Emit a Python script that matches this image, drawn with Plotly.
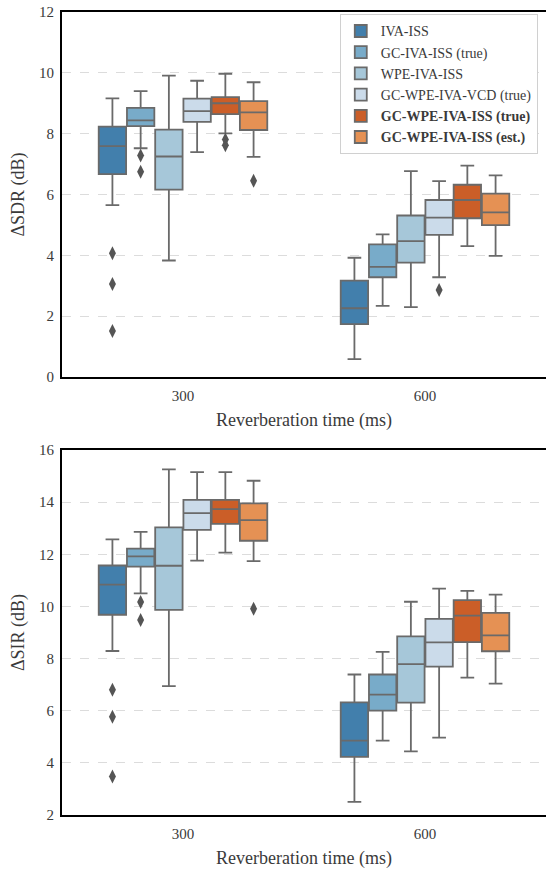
import colorsys
import plotly.graph_objects as go
from plotly.subplots import make_subplots

# ---------------- data ----------------
rt_labels = ["300", "600"]
methods = ["IVA-ISS", "GC-IVA-ISS (true)", "WPE-IVA-ISS", "GC-WPE-IVA-VCD (true)",
           "GC-WPE-IVA-ISS (true)", "GC-WPE-IVA-ISS (est.)"]
legend_bold = [False, False, False, False, True, True]

# SDR stats: per method, [300 ms, 600 ms]
sdr_lo = [[5.65, 0.59], [7.52, 2.34], [3.83, 2.30], [7.39, 3.28], [8.01, 4.30], [7.24, 3.98]]
sdr_q1 = [[6.67, 1.74], [8.25, 3.28], [6.16, 3.76], [8.39, 4.67], [8.64, 5.22], [8.12, 4.99]]
sdr_med = [[7.59, 2.26], [8.44, 3.62], [7.25, 4.47], [8.74, 5.24], [9.00, 5.82], [8.70, 5.41]]
sdr_q3 = [[8.23, 3.17], [8.85, 4.36], [8.13, 5.31], [9.15, 5.82], [9.20, 6.32], [9.07, 6.03]]
sdr_hi = [[9.16, 3.92], [9.40, 4.69], [9.91, 6.77], [9.74, 6.44], [9.97, 6.95], [9.69, 6.63]]
sdr_out = [[[4.07, 3.06, 1.51], []], [[7.28, 6.75], []], [[], []], [[], [2.86]],
           [[7.81, 7.62], []], [[6.45], []]]

# SIR stats
sir_lo = [[8.29, 2.50], [10.50, 4.85], [6.94, 4.44], [11.76, 4.97], [12.06, 7.27], [11.74, 7.04]]
sir_q1 = [[9.68, 4.23], [11.53, 6.00], [9.87, 6.31], [12.94, 7.69], [13.17, 8.63], [12.52, 8.28]]
sir_med = [[10.84, 4.85], [11.92, 6.62], [11.56, 7.79], [13.58, 8.62], [13.73, 9.65], [13.31, 8.89]]
sir_q3 = [[11.57, 6.32], [12.22, 7.39], [13.03, 8.85], [14.09, 9.52], [14.09, 10.24], [13.95, 9.75]]
sir_hi = [[12.57, 7.39], [12.86, 8.26], [15.26, 10.18], [15.15, 10.68], [15.15, 10.60], [14.82, 10.45]]
sir_out = [[[6.80, 5.77, 3.48], []], [[10.17, 9.48], []], [[], []], [[], []],
           [[], []], [[9.91], []]]

# ---------------- style ----------------
base_colors = ["#3182bd", "#6baed6", "#9ecae1", "#c6dbef", "#e6550d", "#fd8d3c"]


def desat(hexc, prop=0.75):
    r, g, b = (int(hexc[i:i + 2], 16) / 255 for i in (1, 3, 5))
    h, l, s = colorsys.rgb_to_hls(r, g, b)
    r, g, b = colorsys.hls_to_rgb(h, l, s * prop)
    return "#%02x%02x%02x" % (round(r * 255), round(g * 255), round(b * 255))


colors = [desat(c) for c in base_colors]
line_gray = "#6a6a6a"
flier_gray = "#555555"
FONT = "Liberation Serif, Times New Roman, serif"
TXT = "#3a3a3a"

n = len(methods)
group_w = 0.7
step = group_w / n
box_w = step * 0.97

fig = make_subplots(rows=2, cols=1, vertical_spacing=0.0909)

panels = [
    (1, sdr_lo, sdr_q1, sdr_med, sdr_q3, sdr_hi, sdr_out),
    (2, sir_lo, sir_q1, sir_med, sir_q3, sir_hi, sir_out),
]
for row, lo, q1, med, q3, hi, outl in panels:
    for j, m in enumerate(methods):
        off = (j - (n - 1) / 2) * step
        xs = [k + off for k in range(len(rt_labels))]
        name = f"<b>{m}</b>" if legend_bold[j] else m
        fig.add_trace(go.Box(
            x=xs, q1=q1[j], median=med[j], q3=q3[j],
            lowerfence=lo[j], upperfence=hi[j],
            width=box_w, whiskerwidth=0.5,
            fillcolor=colors[j], line=dict(color=line_gray, width=1.8),
            boxpoints=False, name=name, legendgroup=m,
            showlegend=(row == 1), hoverinfo="skip",
        ), row=row, col=1)
        ox, oy = [], []
        for k in range(len(rt_labels)):
            for v in outl[j][k]:
                ox.append(k + off)
                oy.append(v)
        if ox:
            fig.add_trace(go.Scatter(
                x=ox, y=oy, mode="markers",
                marker=dict(symbol="diamond-tall", size=10, color=flier_gray,
                            line=dict(width=0)),
                showlegend=False, hoverinfo="skip",
            ), row=row, col=1)

axis_common = dict(showline=True, linecolor="black", linewidth=2, zeroline=False,
                   ticks="", automargin=False, ticklabeloverflow="allow",
                   tickfont=dict(family=FONT, size=15, color=TXT))
title_font = dict(family=FONT, size=18, color=TXT)
for row in (1, 2):
    fig.update_xaxes(range=[-0.5, 1.5], tickvals=[0, 1], ticktext=rt_labels,
                     showgrid=False, mirror=True, ticklabelstandoff=4,
                     title=dict(text="Reverberation time (ms)", font=title_font, standoff=10),
                     row=row, col=1, **axis_common)
fig.update_yaxes(range=[0, 12], tickvals=[0, 2, 4, 6, 8, 10, 12], row=1, col=1,
                 title=dict(text="ΔSDR (dB)", font=title_font, standoff=10),
                 showgrid=True, gridcolor="#dcdcdc", griddash="dash", gridwidth=1,
                 ticklabelstandoff=3, **axis_common)
fig.update_yaxes(range=[2, 16], tickvals=[2, 4, 6, 8, 10, 12, 14, 16], row=2, col=1,
                 title=dict(text="ΔSIR (dB)", font=title_font, standoff=10),
                 showgrid=True, gridcolor="#dcdcdc", griddash="dash", gridwidth=1,
                 ticklabelstandoff=3, **axis_common)

fig.update_layout(
    width=546, height=870,
    margin=dict(l=62, r=0, t=12, b=55),
    paper_bgcolor="white", plot_bgcolor="white",
    font=dict(family=FONT, color=TXT),
    boxmode="overlay",
    legend=dict(x=0.983, y=0.997, xanchor="right", yanchor="top",
                bgcolor="white", bordercolor="#d0d0d0", borderwidth=1,
                font=dict(family=FONT, size=14, color=TXT),
                tracegroupgap=0, itemwidth=30),
)

# remove the page's default body margin so the figure fills the window exactly
fig.write_html("out.html",
               config={"displayModeBar": False},
               post_script="document.body.style.margin='0';document.body.style.overflow='hidden';")
